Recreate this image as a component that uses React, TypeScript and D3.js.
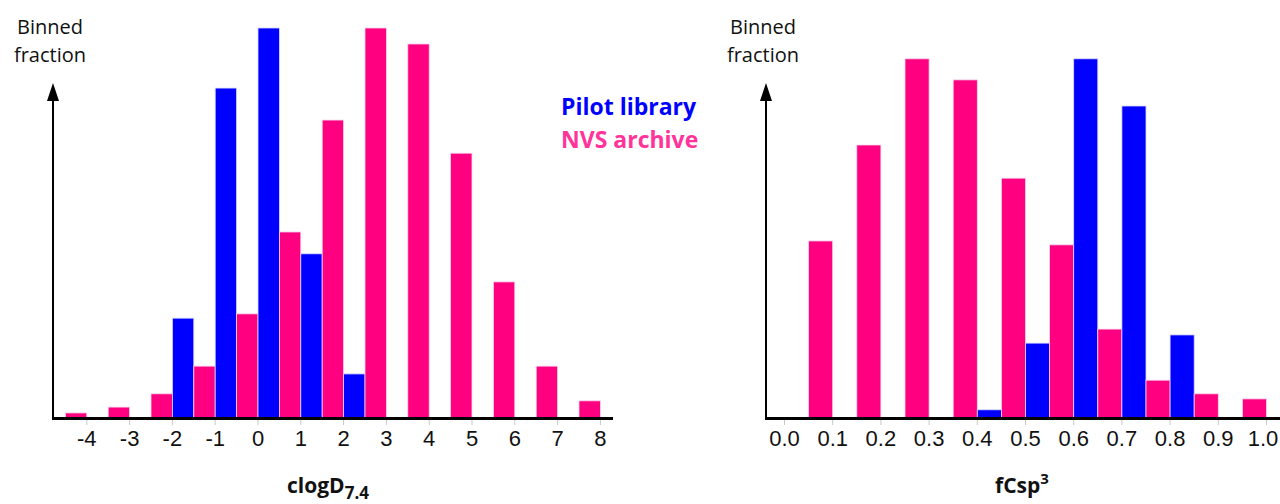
import * as d3 from "d3";
import { FC } from "react";

const WIDTH = 1280;
const HEIGHT = 504;
const BASE_Y = 418;
const TOP_Y = 28;

const PINK = "#ff0080";
const BLUE = "#0000ff";

// clogD7.4 histogram (relative binned fraction)
const logdTicks = [-4, -3, -2, -1, 0, 1, 2, 3, 4, 5, 6, 7, 8];
const logdNvs = [0.013, 0.028, 0.062, 0.133, 0.267, 0.477, 0.764, 1.0, 0.959, 0.679, 0.349, 0.133, 0.044];
const logdPilot = [0, 0, 0.256, 0.846, 1.0, 0.421, 0.113, 0, 0, 0, 0, 0, 0];

// fCsp3 histogram
const fcspTicks = [0.0, 0.1, 0.2, 0.3, 0.4, 0.5, 0.6, 0.7, 0.8, 0.9, 1.0];
const fcspNvs = [0, 0.454, 0.7, 0.921, 0.867, 0.615, 0.444, 0.228, 0.097, 0.062, 0.049];
const fcspPilot = [0, 0, 0, 0, 0.021, 0.192, 0.921, 0.8, 0.213, 0, 0];

const legendLabels = ["Pilot library", "NVS archive"];

const yScale = d3.scaleLinear([0, 1], [BASE_Y, TOP_Y]);

const Panel: FC<{
  ticks: number[];
  nvs: number[];
  pilot: number[];
  step: number;
  xDomain: [number, number];
  xRange: [number, number];
  axisExtent: [number, number];
  format: (v: number) => string;
  title: React.ReactNode;
  titleX: number;
}> = ({ ticks, nvs, pilot, step, xDomain, xRange, axisExtent, format, title, titleX }) => {
  const x = d3.scaleLinear(xDomain, xRange);
  const half = step / 2;
  const axisX = axisExtent[0];
  return (
    <g>
      {ticks.map((t, i) => (
        <g key={"b" + i}>
          {nvs[i] > 0 && (
            <rect
              x={x(t - half)}
              width={x(t) - x(t - half)}
              y={yScale(nvs[i])}
              height={BASE_Y - yScale(nvs[i])}
              fill={PINK}
              stroke="#f4d8ee"
              strokeWidth={0.8}
            />
          )}
          {pilot[i] > 0 && (
            <rect
              x={x(t)}
              width={x(t + half) - x(t)}
              y={yScale(pilot[i])}
              height={BASE_Y - yScale(pilot[i])}
              fill={BLUE}
              stroke="#d8d8ff"
              strokeWidth={0.8}
            />
          )}
        </g>
      ))}
      {ticks.map((t, i) => (
        <g key={"t" + i}>
          <line x1={x(t)} x2={x(t)} y1={BASE_Y + 2} y2={BASE_Y + 7} stroke="#c8c8c8" strokeWidth={1} />
          <text
            x={Math.min(x(t), WIDTH - 17)}
            y={446}
            textAnchor="middle"
            fontFamily="'Liberation Sans', Arial, sans-serif"
            fontSize={22}
            fill="#111"
          >
            {format(t)}
          </text>
        </g>
      ))}
      <line x1={axisExtent[0] - 1} x2={axisExtent[1]} y1={BASE_Y + 0.5} y2={BASE_Y + 0.5} stroke="#000" strokeWidth={3} />
      <line x1={axisX} x2={axisX} y1={BASE_Y + 2} y2={96} stroke="#000" strokeWidth={2} />
      <path d={`M${axisX},83 L${axisX - 6},101 L${axisX + 6},101 Z`} fill="#000" />
      <text
        fontFamily="'Open Sans', sans-serif"
        fontSize={20}
        textAnchor="middle"
        fill="#111"
      >
        <tspan x={axisX - 3} y={34}>Binned</tspan>
        <tspan x={axisX - 3} y={62}>fraction</tspan>
      </text>
      <text
        x={titleX}
        y={493}
        textAnchor="middle"
        fontFamily="'Open Sans', sans-serif"
        fontWeight="bold"
        fontSize={21}
        fill="#111"
      >
        {title}
      </text>
    </g>
  );
};

const App: FC = () => {
  return (
    <svg
      width={WIDTH}
      height={HEIGHT}
      style={{ position: "absolute", left: 0, top: 0, background: "#fff" }}
    >
      <Panel
        ticks={logdTicks}
        nvs={logdNvs}
        pilot={logdPilot}
        step={1}
        xDomain={[0, 8]}
        xRange={[258, 600.4]}
        axisExtent={[53, 613]}
        format={(v) => String(v)}
        title={
          <>
            clogD
            <tspan fontSize={17} dy={6}>7.4</tspan>
          </>
        }
        titleX={328}
      />
      <Panel
        ticks={fcspTicks}
        nvs={fcspNvs}
        pilot={fcspPilot}
        step={0.1}
        xDomain={[0, 1]}
        xRange={[784.5, 1266.5]}
        axisExtent={[766, 1280]}
        format={(v) => v.toFixed(1)}
        title={
          <>
            fCsp
            <tspan fontSize={15} dy={-9}>3</tspan>
          </>
        }
        titleX={1022}
      />
      <text
        fontFamily="'Open Sans', sans-serif"
        fontWeight="bold"
        fontSize={23}
      >
        <tspan x={561} y={115} fill={BLUE}>{legendLabels[0]}</tspan>
        <tspan x={561} y={148} fill="#ff3399">{legendLabels[1]}</tspan>
      </text>
    </svg>
  );
};

export default App;
